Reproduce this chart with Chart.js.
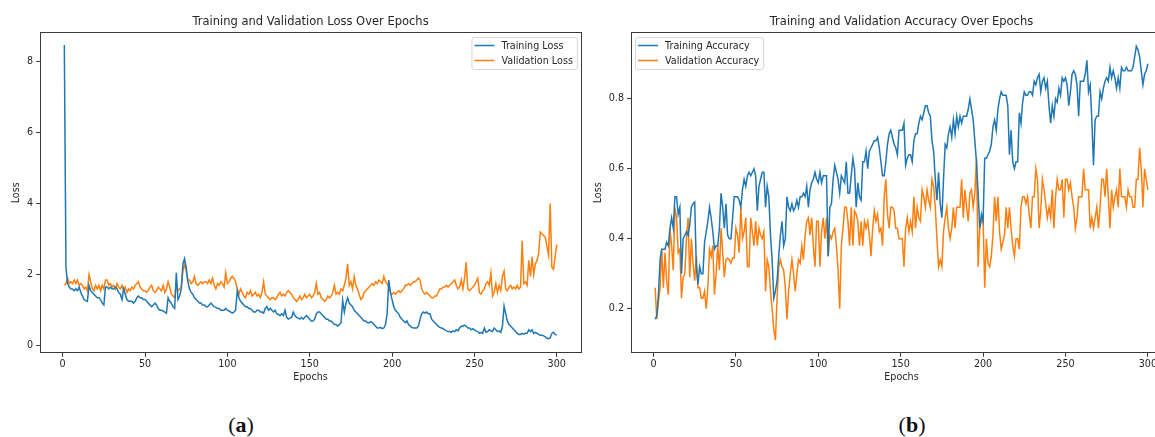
<!DOCTYPE html>
<html>
<head>
<meta charset="utf-8">
<title>Training and Validation Curves</title>
<script src="https://cdn.jsdelivr.net/npm/chart.js@4.4.1/dist/chart.umd.min.js"></script>
<style>
  html, body { margin: 0; padding: 0; background: #fff; }
  body { width: 1155px; height: 437px; overflow: hidden; position: relative; }
  canvas { position: absolute; top: 0; }
  #lossCanvas { left: 0; }
  #accCanvas { left: 580px; }
  .caption {
    position: absolute; top: 410px; transform: translateX(-50%);
    font-family: 'Liberation Serif', 'DejaVu Serif', serif; font-size: 22px; color: #111;
    line-height: 30px;
  }
</style>
</head>
<body>
<canvas id="lossCanvas" width="584" height="400" style="width:584px;height:400px"></canvas>
<canvas id="accCanvas" width="600" height="400" style="width:600px;height:400px"></canvas>
<div class="caption" style="left:241px">(<b>a</b>)</div>
<div class="caption" style="left:912px">(<b>b</b>)</div>
<script>
// ---- per-epoch history (epochs 1..300) ----
const trainLoss = [
  8.45, 2.2, 1.75, 1.65, 1.6, 1.6, 1.55, 1.6, 1.55, 1.65,
  1.5, 1.4, 1.3, 1.27, 1.25, 1.7, 1.55, 1.5, 1.45, 1.4,
  1.35, 1.35, 1.3, 1.2, 1.15, 1.65, 1.65, 1.6, 1.65, 1.6,
  1.6, 1.65, 1.6, 1.5, 1.45, 1.3, 1.6, 1.45, 1.3, 1.25,
  1.25, 1.25, 1.2, 1.25, 1.35, 1.4, 1.35, 1.35, 1.3, 1.3,
  1.25, 1.2, 1.15, 1.1, 1.15, 1.2, 1.15, 1.05, 1.0, 1.0,
  0.98, 0.95, 0.92, 1.35, 1.25, 1.2, 1.1, 1.05, 2.05, 1.3,
  1.4, 1.6, 2.3, 2.45, 2.2, 1.8, 1.6, 1.5, 1.45, 1.35,
  1.3, 1.25, 1.2, 1.2, 1.15, 1.15, 1.1, 1.1, 1.15, 1.2,
  1.15, 1.1, 1.08, 1.05, 1.05, 1.0, 1.0, 1.0, 1.05, 1.0,
  0.98, 0.95, 0.92, 0.95, 1.0, 1.55, 1.35, 1.25, 1.2, 1.15,
  1.1, 1.1, 1.05, 1.05, 1.0, 0.95, 0.95, 1.0, 1.0, 0.95,
  0.95, 0.92, 1.05, 1.1, 1.0, 1.05, 1.0, 0.95, 1.0, 0.9,
  0.88, 0.85, 0.9, 0.85, 1.0, 0.8, 0.75, 0.78, 0.8, 0.95,
  0.85, 0.8, 0.78, 0.75, 0.8, 0.75, 0.8, 0.85, 0.8, 0.75,
  0.7, 0.7, 0.75, 0.9, 0.95, 0.95, 0.9, 0.85, 0.8, 0.75,
  0.75, 0.7, 0.7, 0.65, 0.6, 0.6, 0.55, 0.6, 0.65, 1.28,
  0.95, 1.2, 1.35, 1.2, 1.15, 1.1, 1.0, 0.95, 0.9, 0.85,
  0.8, 0.75, 0.7, 0.7, 0.65, 0.65, 0.68, 0.65, 0.6, 0.55,
  0.5, 0.5, 0.52, 0.48, 0.5, 0.6, 0.9, 1.85, 1.5, 1.3,
  1.1, 1.0, 0.95, 0.9, 0.8, 0.75, 0.7, 0.65, 0.7, 0.6,
  0.55, 0.52, 0.5, 0.5, 0.5, 0.55, 0.75, 0.9, 0.95, 0.92,
  0.95, 0.9, 0.9, 0.75, 0.7, 0.65, 0.6, 0.55, 0.52, 0.5,
  0.48, 0.45, 0.42, 0.4, 0.4, 0.38, 0.42, 0.4, 0.45, 0.42,
  0.5, 0.55, 0.55, 0.58, 0.55, 0.5, 0.5, 0.45, 0.48, 0.45,
  0.42, 0.4, 0.35, 0.38, 0.35, 0.5, 0.38, 0.4, 0.45, 0.42,
  0.4, 0.5, 0.45, 0.4, 0.42, 0.38, 0.55, 1.12, 0.9, 0.7,
  0.6, 0.55, 0.5, 0.45, 0.4, 0.35, 0.32, 0.32, 0.35, 0.33,
  0.35, 0.35, 0.45, 0.4, 0.45, 0.35, 0.38, 0.35, 0.32, 0.3,
  0.3, 0.28, 0.25, 0.22, 0.2, 0.22, 0.35, 0.38, 0.32, 0.3
];

const valLoss = [
  1.7, 1.75, 1.9, 1.75, 1.8, 1.75, 1.85, 1.75, 1.85, 1.7,
  1.75, 1.7, 1.6, 1.65, 1.55, 2.0, 1.8, 1.6, 1.55, 1.7,
  1.6, 1.7, 1.55, 1.7, 1.6, 1.85, 1.85, 1.7, 1.75, 1.65,
  1.7, 1.6, 1.75, 1.65, 1.6, 1.7, 1.55, 1.65, 1.5, 1.6,
  1.55, 1.65, 1.6, 1.7, 1.75, 1.8, 1.65, 1.6, 1.55, 1.55,
  1.5, 1.55, 1.65, 1.7, 1.55, 1.5, 1.55, 1.65, 1.6, 1.55,
  1.7, 1.5, 1.6, 1.8, 1.65, 1.45, 1.4, 1.35, 1.75, 1.55,
  1.6, 1.65, 2.1, 2.3, 2.1, 1.85, 1.85, 1.75, 1.8, 1.95,
  1.75, 1.7, 1.75, 1.8, 1.75, 1.8, 1.8, 1.75, 1.85, 1.75,
  1.9, 1.7, 1.6, 1.75, 1.7, 1.8, 1.75, 1.65, 2.05, 1.75,
  1.8, 1.9, 1.95, 1.9, 1.8, 1.6, 1.45, 1.6, 1.5, 1.4,
  1.35, 1.5, 1.45, 1.55, 1.4, 1.45, 1.5, 1.4, 1.45, 1.35,
  1.5, 1.8, 1.45, 1.4, 1.35, 1.3, 1.35, 1.35, 1.3, 1.35,
  1.45, 1.5, 1.4, 1.45, 1.4, 1.5, 1.55, 1.5, 1.45, 1.35,
  1.3, 1.25, 1.3, 1.4, 1.3, 1.35, 1.45, 1.35, 1.4, 1.45,
  1.35, 1.4, 1.5, 1.75, 1.45, 1.5, 1.35, 1.3, 1.25, 1.3,
  1.4, 1.35, 1.4, 1.5, 1.7, 1.45, 1.5, 1.45, 1.6, 1.55,
  1.7, 1.9, 2.3, 1.7, 1.8, 1.6, 1.95, 1.7, 1.6, 1.45,
  1.3, 1.35, 1.5, 1.55, 1.6, 1.65, 1.7, 1.75, 1.7, 1.8,
  1.75, 1.85, 1.8, 1.75, 1.95, 1.8, 1.75, 1.65, 1.5, 1.45,
  1.5, 1.45, 1.5, 1.55, 1.5, 1.55, 1.6, 1.7, 1.7, 1.75,
  1.7, 1.75, 1.8, 1.8, 1.85, 1.9, 1.85, 1.6, 1.5, 1.45,
  1.5, 1.45, 1.4, 1.35, 1.35, 1.4, 1.4, 1.5, 1.6, 1.6,
  1.65, 1.65, 1.7, 1.65, 1.7, 1.75, 1.8, 1.85, 1.7, 1.6,
  1.65, 1.85, 1.6, 1.9, 2.35, 1.6, 1.55, 1.6, 1.65, 1.7,
  1.8, 1.9, 1.5, 1.45, 1.55, 1.6, 1.75, 1.8, 1.7, 2.05,
  1.4, 1.5, 1.75, 1.5, 1.7, 1.55, 1.95, 2.1, 1.6, 1.55,
  1.65, 1.7, 1.6, 1.65, 1.6, 1.7, 1.6, 1.65, 2.95, 1.75,
  1.8, 1.7, 2.4, 1.95, 2.5, 2.0, 2.3, 2.4, 2.6, 3.2,
  3.15, 3.1, 3.05, 2.8, 2.55, 4.0, 2.2, 2.15, 2.5, 2.85
];

const trainAcc = [
  0.17, 0.18, 0.24, 0.34, 0.37, 0.37, 0.37, 0.39, 0.38, 0.43,
  0.46, 0.43, 0.52, 0.52, 0.47, 0.49, 0.3, 0.4, 0.41, 0.42,
  0.41, 0.44, 0.49, 0.5, 0.505, 0.32, 0.27, 0.32, 0.3, 0.3,
  0.39, 0.42, 0.45, 0.49, 0.46, 0.42, 0.37, 0.38, 0.38, 0.43,
  0.53, 0.49, 0.43, 0.5, 0.41, 0.4, 0.4, 0.46, 0.52, 0.52,
  0.52, 0.51, 0.49, 0.54, 0.57, 0.55, 0.58, 0.59, 0.58, 0.59,
  0.6, 0.58, 0.48, 0.55, 0.57, 0.59, 0.59, 0.49, 0.55, 0.52,
  0.41, 0.34, 0.23, 0.25, 0.28, 0.35, 0.41, 0.45, 0.38, 0.4,
  0.52, 0.49, 0.48, 0.5, 0.48, 0.49, 0.51, 0.49, 0.52, 0.52,
  0.53, 0.52, 0.55, 0.49, 0.54, 0.56, 0.57, 0.59, 0.57, 0.56,
  0.59, 0.56, 0.58, 0.58, 0.58, 0.35, 0.49, 0.5, 0.57, 0.61,
  0.59, 0.57, 0.53, 0.58, 0.57, 0.56, 0.62, 0.53, 0.53, 0.58,
  0.63, 0.6, 0.49, 0.56, 0.52, 0.51, 0.62, 0.62, 0.65, 0.6,
  0.65, 0.66, 0.67, 0.68, 0.68, 0.69, 0.66, 0.62, 0.58, 0.58,
  0.62, 0.67, 0.7, 0.71, 0.69, 0.67, 0.66, 0.64, 0.71, 0.71,
  0.71, 0.73, 0.61, 0.63, 0.64, 0.64, 0.62, 0.68, 0.7, 0.7,
  0.73, 0.75, 0.74, 0.76, 0.78, 0.78, 0.76, 0.75, 0.68, 0.65,
  0.57, 0.51, 0.59, 0.5, 0.46, 0.57, 0.67, 0.66, 0.7, 0.72,
  0.69, 0.74, 0.7, 0.75, 0.72, 0.75, 0.73, 0.75, 0.75, 0.75,
  0.77, 0.8, 0.77, 0.74, 0.68, 0.62, 0.53, 0.43, 0.47, 0.45,
  0.63, 0.63, 0.64, 0.65, 0.67, 0.72, 0.74, 0.71, 0.77, 0.8,
  0.82, 0.81, 0.81, 0.81, 0.78, 0.64, 0.71, 0.62, 0.6, 0.62,
  0.62, 0.76, 0.73, 0.79, 0.82, 0.81, 0.81, 0.82, 0.82, 0.81,
  0.85, 0.84, 0.86, 0.87, 0.82, 0.85, 0.86, 0.83, 0.85, 0.78,
  0.73, 0.78, 0.75, 0.8, 0.79, 0.83, 0.81, 0.86, 0.85, 0.86,
  0.84, 0.78, 0.82, 0.87, 0.88, 0.87, 0.84, 0.75, 0.85, 0.85,
  0.85, 0.87, 0.91, 0.82, 0.84, 0.74, 0.61, 0.74, 0.75, 0.75,
  0.82, 0.8, 0.83, 0.85, 0.86, 0.85, 0.89, 0.86, 0.88, 0.86,
  0.83, 0.86, 0.83, 0.89, 0.88, 0.88, 0.89, 0.88, 0.88, 0.88,
  0.89, 0.92, 0.95, 0.94, 0.92, 0.88, 0.84, 0.87, 0.88, 0.9
];

const valAcc = [
  0.26, 0.17, 0.22, 0.26, 0.37, 0.26, 0.36, 0.28, 0.24, 0.43,
  0.38, 0.31, 0.49, 0.46, 0.36, 0.37, 0.23, 0.29, 0.3, 0.4,
  0.46, 0.29, 0.4, 0.33, 0.28, 0.35, 0.26, 0.26, 0.23, 0.23,
  0.25, 0.2, 0.26, 0.37, 0.35, 0.38, 0.24, 0.3, 0.38, 0.31,
  0.43, 0.36, 0.29, 0.34, 0.345, 0.34, 0.33, 0.345, 0.345, 0.43,
  0.41, 0.36, 0.49, 0.4, 0.42, 0.46, 0.32, 0.32, 0.46, 0.42,
  0.38, 0.45, 0.38, 0.43, 0.41, 0.4, 0.42, 0.25, 0.34, 0.32,
  0.25, 0.2, 0.14, 0.11, 0.23, 0.32, 0.34, 0.32, 0.31, 0.26,
  0.17, 0.25, 0.3, 0.34, 0.3, 0.25, 0.3, 0.34, 0.33, 0.38,
  0.34, 0.41, 0.45, 0.46, 0.41, 0.46, 0.38, 0.32, 0.45, 0.45,
  0.32, 0.42, 0.46, 0.4, 0.46, 0.35, 0.41, 0.4, 0.42, 0.43,
  0.38, 0.31, 0.2, 0.38, 0.43, 0.49, 0.49, 0.45, 0.38, 0.49,
  0.38, 0.48, 0.47, 0.45, 0.38, 0.45, 0.38, 0.45, 0.43, 0.45,
  0.41, 0.35, 0.43, 0.48, 0.45, 0.47, 0.42, 0.43, 0.38, 0.52,
  0.57, 0.47, 0.43, 0.49, 0.49, 0.48, 0.43, 0.43, 0.4, 0.4,
  0.4, 0.32, 0.43, 0.46, 0.42, 0.45, 0.42, 0.52, 0.43, 0.49,
  0.46, 0.45, 0.54, 0.52, 0.49, 0.54, 0.51, 0.49, 0.57, 0.55,
  0.49, 0.4, 0.32, 0.34, 0.32, 0.42, 0.46, 0.49, 0.43, 0.4,
  0.43, 0.49, 0.43, 0.49, 0.49, 0.49, 0.57, 0.46, 0.54, 0.49,
  0.45, 0.53, 0.54, 0.49, 0.53, 0.63, 0.32, 0.43, 0.45, 0.46,
  0.26, 0.4, 0.33, 0.32, 0.35, 0.41, 0.52, 0.45, 0.52, 0.42,
  0.37, 0.39, 0.41, 0.49, 0.43, 0.49, 0.43, 0.38, 0.35, 0.4,
  0.4, 0.37, 0.49, 0.52, 0.52, 0.5, 0.52, 0.47, 0.43, 0.52,
  0.52, 0.6, 0.57, 0.43, 0.48, 0.57, 0.54, 0.5, 0.46, 0.49,
  0.46, 0.54, 0.43, 0.52, 0.57, 0.54, 0.54, 0.57, 0.46, 0.57,
  0.57, 0.54, 0.56, 0.52, 0.49, 0.43, 0.46, 0.52, 0.52, 0.52,
  0.6, 0.54, 0.54, 0.54, 0.43, 0.46, 0.43, 0.46, 0.49, 0.43,
  0.49, 0.57, 0.57, 0.52, 0.6, 0.52, 0.43, 0.54, 0.49, 0.52,
  0.54, 0.49, 0.6, 0.52, 0.52, 0.52, 0.49, 0.54, 0.52, 0.52,
  0.49, 0.49, 0.57, 0.57, 0.66, 0.6, 0.49, 0.6, 0.57, 0.54
];

// axis tick labels
const epochTicks = [0, 50, 100, 150, 200, 250, 300];
const lossTicks = [0, 2, 4, 6, 8];
const accTicks = [0.2, 0.4, 0.6, 0.8];

const epochs = trainLoss.map((_, i) => i + 1);

const BLUE = '#1f77b4';
const ORANGE = '#ff7f0e';
const FONT = "'DejaVu Sans', 'Liberation Sans', sans-serif";
const INK = '#262626';

// frame around the plotting area (all four spines)
const framePlugin = {
  id: 'frame',
  afterDatasetsDraw(chart) {
    const { ctx, chartArea: a } = chart;
    ctx.save();
    ctx.strokeStyle = '#3a3a3a';
    ctx.lineWidth = 1;
    ctx.strokeRect(Math.round(a.left) + 0.5, Math.round(a.top) + 0.5,
                   Math.round(a.right - a.left) - 1, Math.round(a.bottom - a.top) - 1);
    ctx.restore();
  }
};

// legend box drawn inside the plotting area
const boxLegendPlugin = {
  id: 'boxLegend',
  afterDraw(chart, args, opts) {
    const { ctx, chartArea: a } = chart;
    const size = 9.6;
    ctx.save();
    ctx.font = `${size}px ${FONT}`;
    const items = chart.data.datasets.map(d => ({ text: d.label, color: d.borderColor }));
    const tw = Math.max(...items.map(it => ctx.measureText(it.text).width));
    const w = 30 + tw + 4, h = 32;
    const x = opts.side === 'right' ? a.right - 4.5 - w : a.left + 4.5;
    const y = a.top + 4.7;
    ctx.beginPath();
    if (ctx.roundRect) ctx.roundRect(x + 0.5, y + 0.5, w, h, 2.5); else ctx.rect(x + 0.5, y + 0.5, w, h);
    ctx.fillStyle = 'rgba(255,255,255,0.85)';
    ctx.fill();
    ctx.strokeStyle = '#d6d6d6';
    ctx.lineWidth = 1;
    ctx.stroke();
    items.forEach((it, i) => {
      const yy = y + 8.5 + i * 15;
      ctx.beginPath();
      ctx.moveTo(x + 3, yy);
      ctx.lineTo(x + 23, yy);
      ctx.strokeStyle = it.color;
      ctx.lineWidth = 1.5;
      ctx.stroke();
      ctx.fillStyle = INK;
      ctx.textBaseline = 'middle';
      ctx.textAlign = 'left';
      ctx.fillText(it.text, x + 30, yy + 0.5);
    });
    ctx.restore();
  }
};

function lineSet(label, values, color) {
  return {
    label,
    data: values.map((v, i) => ({ x: epochs[i], y: v })),
    borderColor: color,
    backgroundColor: color,
    borderWidth: 1.5,
    pointRadius: 0,
    tension: 0,
    fill: false
  };
}

function makeChart(canvasId, cfg) {
  const tickFont = { family: FONT, size: 9.6 };
  return new Chart(document.getElementById(canvasId), {
    type: 'line',
    data: {
      datasets: [
        lineSet(cfg.names[0], cfg.series[0], BLUE),
        lineSet(cfg.names[1], cfg.series[1], ORANGE)
      ]
    },
    plugins: [framePlugin, boxLegendPlugin],
    options: {
      responsive: false,
      animation: false,
      events: [],
      layout: { padding: { left: 0, right: cfg.padRight, top: 0, bottom: 0 } },
      plugins: {
        legend: { display: false },
        tooltip: { enabled: false },
        title: {
          display: true,
          text: cfg.title,
          fullSize: false,
          color: INK,
          font: { family: FONT, size: 11.5, weight: 'normal', lineHeight: 1.2 },
          padding: { top: 15.6, bottom: 2.9 }
        },
        boxLegend: { side: cfg.legendSide }
      },
      scales: {
        x: {
          type: 'linear',
          min: -13.95,
          max: 314.95,
          afterBuildTicks: s => { s.ticks = epochTicks.map(v => ({ value: v })); },
          afterFit: s => { s.height = 46.7; },
          grid: { drawOnChartArea: false, drawTicks: true, tickLength: 3.5, color: '#3a3a3a', lineWidth: 1 },
          border: { display: false },
          ticks: { color: INK, font: tickFont, padding: 2, maxRotation: 0, autoSkip: false },
          title: { display: true, text: 'Epochs', color: INK, font: { family: FONT, size: 9.6, lineHeight: 1.2 },
                   padding: { top: 0, bottom: 16.5 } }
        },
        y: {
          type: 'linear',
          min: cfg.yMin,
          max: cfg.yMax,
          afterBuildTicks: s => { s.ticks = cfg.yTicks.map(v => ({ value: v })); },
          afterFit: s => { s.width = cfg.yWidth; },
          grid: { drawOnChartArea: false, drawTicks: true, tickLength: 3.5, color: '#3a3a3a', lineWidth: 1 },
          border: { display: false },
          ticks: { color: INK, font: tickFont, padding: 3, autoSkip: false,
                   callback: v => cfg.yFormat(v) },
          title: { display: true, text: 'Loss', color: INK, font: { family: FONT, size: 9.6, lineHeight: 1.2 },
                   padding: { top: cfg.yTitlePad, bottom: 0 } }
        }
      }
    }
  });
}

makeChart('lossCanvas', {
  title: 'Training and Validation Loss Over Epochs',
  names: ['Training Loss', 'Validation Loss'],
  series: [trainLoss, valLoss],
  yMin: -0.21, yMax: 8.81,
  yTicks: lossTicks,
  yFormat: v => String(v),
  yWidth: 39.7,
  yTitlePad: 11,
  padRight: 584 - 581.4,
  legendSide: 'right'
});

makeChart('accCanvas', {
  title: 'Training and Validation Accuracy Over Epochs',
  names: ['Training Accuracy', 'Validation Accuracy'],
  series: [trainAcc, valAcc],
  yMin: 0.0726, yMax: 0.99,
  yTicks: accTicks,
  yFormat: v => v.toFixed(1),
  yWidth: 50.5,
  yTitlePad: 13,
  padRight: 600 - 592.5,
  legendSide: 'left'
});
</script>
</body>
</html>
